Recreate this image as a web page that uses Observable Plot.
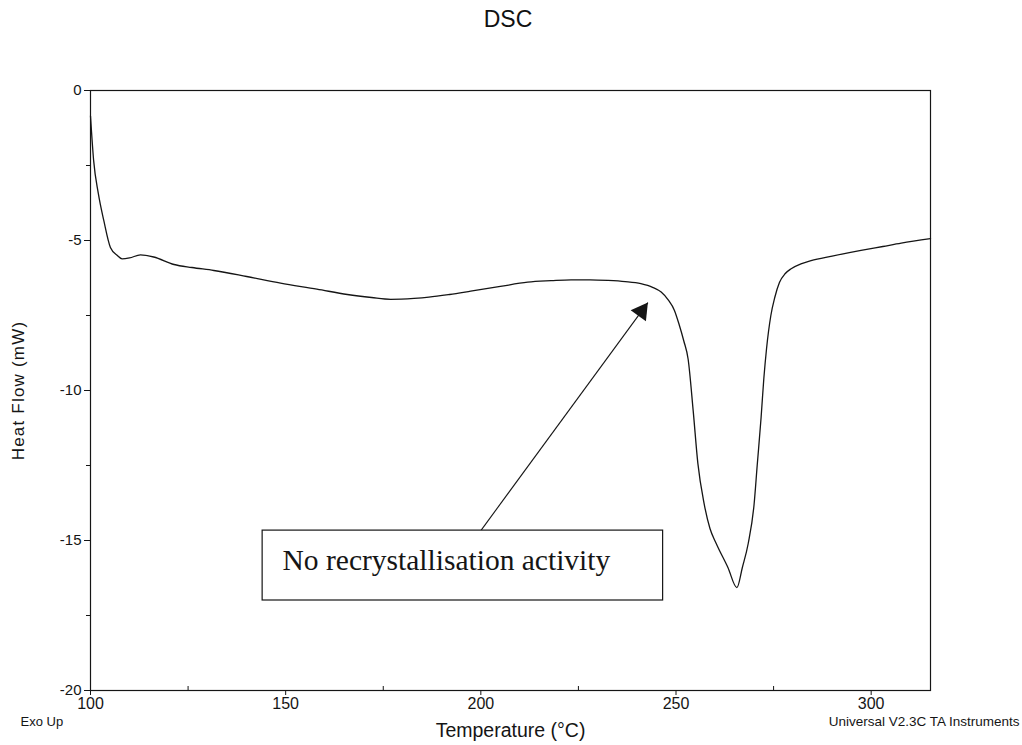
<!DOCTYPE html>
<html><head><meta charset="utf-8">
<script src="https://cdn.jsdelivr.net/npm/d3@7"></script>
<script src="https://cdn.jsdelivr.net/npm/@observablehq/plot@0.6"></script>
<style>
body{margin:0;background:#fff;font-family:"Liberation Sans",Arial,sans-serif;}
#title{position:relative;height:45px;}
#title span{position:absolute;left:508px;top:6px;transform:translateX(-50%);font-size:23px;color:#111;}
</style></head><body>
<div id="title"><span>DSC</span></div>
<div id="chart"></div>
<script>
const temperature = [100, 100.8, 102, 103.4, 105.1, 106.9, 108.1, 110, 112.8, 116.2, 121.4, 126, 131.6, 140, 148.7, 158, 165.8, 172, 176.9, 182.9, 186.7, 192, 197.4, 205, 212, 218, 223.1, 228, 232.5, 237, 241, 244, 246.2, 248, 249.6, 250.8, 252, 253.1, 254.4, 255.6, 257.2, 258.7, 260.3, 263.3, 265.6, 267, 268.5, 270, 270.8, 271.8, 272.5, 273.2, 274.3, 275.3, 276.5, 278, 279.5, 282, 284.6, 290, 297.4, 303, 307.7, 315.2];
const heatFlow = [-0.85, -2.33, -3.43, -4.33, -5.23, -5.5, -5.61, -5.58, -5.48, -5.55, -5.8, -5.9, -6.0, -6.2, -6.42, -6.62, -6.8, -6.9, -6.96, -6.93, -6.89, -6.8, -6.69, -6.53, -6.39, -6.34, -6.31, -6.31, -6.33, -6.37, -6.44, -6.56, -6.72, -6.98, -7.33, -7.8, -8.35, -8.95, -10.67, -12.43, -13.77, -14.6, -15.1, -15.9, -16.57, -15.9, -15.1, -13.8, -12.5, -10.9, -9.6, -8.6, -7.5, -6.9, -6.4, -6.1, -5.94, -5.78, -5.67, -5.52, -5.33, -5.2, -5.09, -4.94];
const xTicks = [100, 150, 200, 250, 300];
const xMinorTicks = [125, 175, 225, 275];
const yTicks = [0, -5, -10, -15, -20];
const yMinorTicks = [-2.5, -7.5, -12.5, -17.5];
const xDomain = [100, 315.2];
const yDomain = [-20, 0];
const annotationText = ["No recrystallisation activity"];
const annotationPos = [149.2, -15.67];
const boxX = [144.1, 246.7];
const boxY = [-14.67, -17];
const arrowFrom = [200, -14.67];
const arrowTo = [242.8, -7.07];
const titleText = "DSC";
const xLabel = "Temperature (°C)";
const yLabel = "Heat Flow (mW)";
const leftNote = "Exo Up";
const rightNote = "Universal V2.3C TA Instruments";

document.querySelector("#title span").textContent = titleText;
const data = temperature.map((t, i) => ({t, q: heatFlow[i]}));
const ink = "#151515";

const plot = Plot.plot({
  width: 1022, height: 700,
  marginLeft: 90, marginRight: 92, marginTop: 45, marginBottom: 55,
  x: {domain: xDomain},
  y: {domain: yDomain},
  style: {fontFamily: "'Liberation Sans', Arial, sans-serif", background: "#fff", color: ink},
  marks: [
    Plot.axisX({ticks: xTicks, tickSize: 5, tickPadding: 2, fontSize: 16, label: null, tickFormat: d => String(d)}),
    Plot.axisX({ticks: xMinorTicks, tickSize: -4, tickFormat: () => "", label: null}),
    Plot.axisY({ticks: yTicks, tickSize: 6, tickPadding: 3, fontSize: 15, label: null, tickFormat: d => String(d)}),
    Plot.axisY({ticks: yMinorTicks, tickSize: 4, tickFormat: () => "", label: null}),
    Plot.frame({stroke: ink, strokeWidth: 1.2}),
    Plot.line(data, {x: "t", y: "q", stroke: ink, strokeWidth: 1.3, curve: "monotone-x"}),
    Plot.link([{x1: arrowFrom[0], y1: arrowFrom[1], x2: arrowTo[0], y2: arrowTo[1]}],
      {x1: "x1", y1: "y1", x2: "x2", y2: "y2", stroke: ink, strokeWidth: 1.1}),
    Plot.dot([{x: arrowTo[0], y: arrowTo[1]}],
      {x: "x", y: "y", symbol: "triangle", r: 7, rotate: 36, fill: ink, stroke: "none", dx: -6.4, dy: 8.8}),
    Plot.rect([{x1: boxX[0], x2: boxX[1], y1: boxY[0], y2: boxY[1]}],
      {x1: "x1", x2: "x2", y1: "y1", y2: "y2", fill: "white", stroke: ink, strokeWidth: 1.2}),
    Plot.text(annotationText, {x: () => annotationPos[0], y: () => annotationPos[1], text: d => d,
      textAnchor: "start", fontFamily: "'Liberation Serif', 'Times New Roman', serif", fontSize: 29.5, fill: ink}),
    Plot.text([yLabel], {frameAnchor: "left", textAnchor: "middle", rotate: -90, dx: -72, text: d => d, fontSize: 17, fill: ink}),
    Plot.text([xLabel], {frameAnchor: "bottom", textAnchor: "middle", dx: 0, dy: 46, text: d => d, fontSize: 19.5, fill: ink}),
    Plot.text([leftNote], {frameAnchor: "bottom-left", textAnchor: "start", dx: -70, dy: 35, text: d => d, fontSize: 13, fill: ink}),
    Plot.text([rightNote], {frameAnchor: "bottom-right", textAnchor: "end", dx: 89, dy: 35, text: d => d, fontSize: 13.5, fill: ink})
  ]
});
d3.select(plot).selectAll("text").filter(function() { return this.textContent === yLabel; })
  .style("letter-spacing", "1.2px");
document.getElementById("chart").appendChild(plot);
</script>
</body></html>
